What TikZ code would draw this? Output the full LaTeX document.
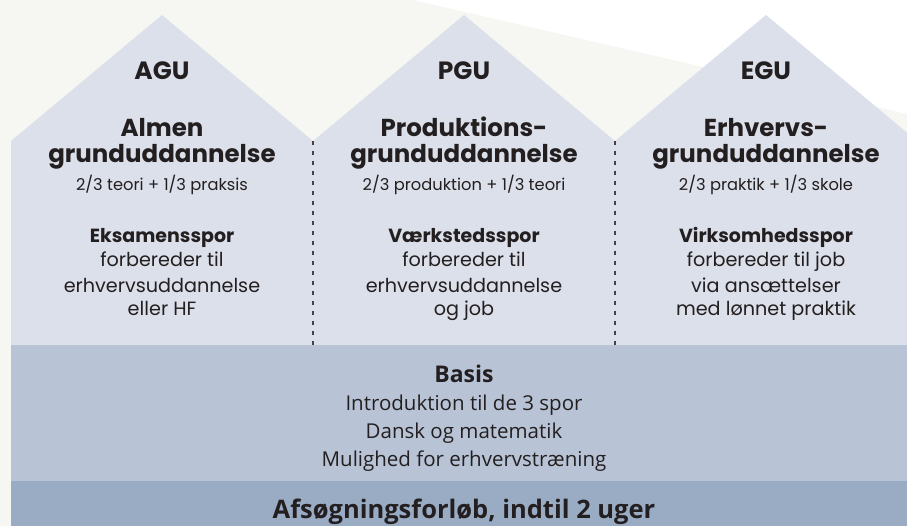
\documentclass[tikz,border=0pt]{standalone}
\usepackage{fontspec}
\setmainfont{Poppins}
\newfontfamily\basisfont{Open Sans}
\definecolor{bgoff}{HTML}{F6F7F3}
\definecolor{housefill}{HTML}{DCE0EA}
\definecolor{basisfill}{HTML}{B8C4D6}
\definecolor{afsfill}{HTML}{9AABC4}
\definecolor{txt}{HTML}{231F20}
\tikzset{
  house/.style={fill=housefill, draw=none},
  sep/.style={draw=txt!85, line width=1.3pt, dash pattern=on 4.5pt off 5.5pt},
  lbl/.style={anchor=base, inner sep=0pt, text=txt},
  abbr/.style={lbl, font=\fontsize{25}{28}\selectfont\bfseries},
  title/.style={lbl, font=\fontsize{24.5}{28}\selectfont\bfseries},
  ratio/.style={lbl, font=\fontsize{16.3}{20}\selectfont},
  track/.style={lbl, font=\fontsize{19}{22}\selectfont\bfseries},
  desc/.style={lbl, font=\fontsize{19.2}{22}\selectfont},
  bhead/.style={lbl, font=\basisfont\fontsize{23}{26}\selectfont\bfseries},
  btext/.style={lbl, font=\basisfont\fontsize{20.5}{24}\selectfont},
  afs/.style={lbl, font=\basisfont\fontsize{25.5}{28}\selectfont\bfseries},
}
\begin{document}
\begin{tikzpicture}[x=1pt, y=-1pt]
\useasboundingbox (0,0) rectangle (907,526);
\fill[bgoff] (0,0) rectangle (907,526);
\fill[white] (413,0) -- (907,0) -- (907,114) -- cycle;
% houses
\fill[house] (11,345) -- (11,141) -- (162,15) -- (313,141) -- (313,345) -- cycle;
\fill[house] (313,345) -- (313,141) -- (464,15) -- (615,141) -- (615,345) -- cycle;
\fill[house] (615,345) -- (615,141) -- (766,15) -- (917,141) -- (917,345) -- cycle;
% bands
\fill[basisfill] (11,345) rectangle (907,481);
\fill[afsfill] (11,481) rectangle (907,526);
% separators
\coordinate (s1t) at (313,141); \coordinate (s1b) at (313,345);
\coordinate (s2t) at (615,141); \coordinate (s2b) at (615,345);
\draw[sep] (s1t) -- (s1b);
\draw[sep] (s2t) -- (s2b);
% house 1
\node[abbr] (a0) at (162,80) {AGU};
\node[title] (a1) at (162,137) {Almen};
\node[title] (a2) at (162,163) {grunduddannelse};
\node[ratio] (a3) at (162,191) {2/3 teori + 1/3 praksis};
\node[track] (a4) at (162,243) {Eksamensspor};
\node[desc] (a5) at (162,267) {forbereder til};
\node[desc] (a6) at (162,293) {erhvervsuddannelse};
\node[desc] (a7) at (162,316) {eller HF};
% house 2
\node[abbr] (p0) at (464,80) {PGU};
\node[title] (p1) at (464,137) {Produktions-};
\node[title] (p2) at (464,163) {grunduddannelse};
\node[ratio] (p3) at (464,191) {2/3 produktion + 1/3 teori};
\node[track] (p4) at (464,243) {Værkstedsspor};
\node[desc] (p5) at (464,267) {forbereder til};
\node[desc] (p6) at (464,293) {erhvervsuddannelse};
\node[desc] (p7) at (464,316) {og job};
% house 3
\node[abbr] (e0) at (766,80) {EGU};
\node[title] (e1) at (766,137) {Erhvervs-};
\node[title] (e2) at (766,163) {grunduddannelse};
\node[ratio] (e3) at (766,191) {2/3 praktik + 1/3 skole};
\node[track] (e4) at (766,243) {Virksomhedsspor};
\node[desc] (e5) at (766,267) {forbereder til job};
\node[desc] (e6) at (766,293) {via ansættelser};
\node[desc] (e7) at (766,316) {med lønnet praktik};
% basis
\node[bhead] (b0) at (464,382) {Basis};
\node[btext] (b1) at (464,410) {Introduktion til de 3 spor};
\node[btext] (b2) at (464,438) {Dansk og matematik};
\node[btext] (b3) at (464,466) {Mulighed for erhvervstræning};
\node[afs] (f0) at (464,518) {Afsøgningsforløb, indtil 2 uger};
\end{tikzpicture}
\end{document}
